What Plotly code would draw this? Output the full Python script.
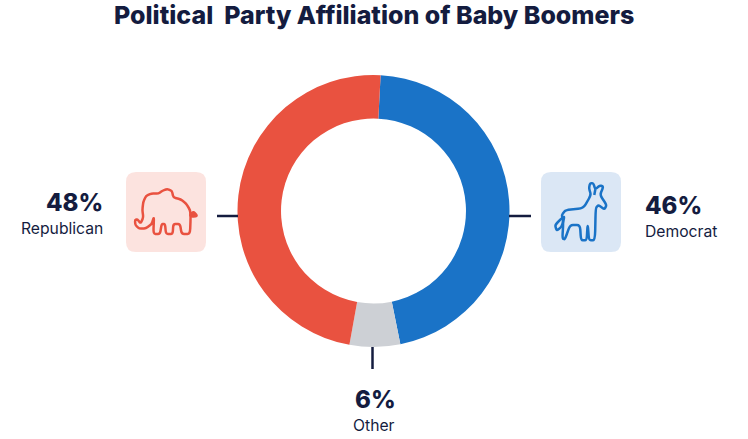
import plotly.graph_objects as go

parties = ["Democrat", "Other", "Republican"]
shares = [46, 6, 48]
colors = ["#1a73c7", "#cdd0d5", "#e95240"]
dark = "#141c3f"
font = "Inter"

# label positions in page pixels
label_x = [643, 375, 105]
name_x = [643, 374.5, 104.5]
pct_y = [205, 399, 202]
name_y = [231, 425, 228]
label_anchor = ["left", "center", "right"]

W, H = 748, 439

def px(x):
    return x / W

def py(y):
    return 1 - y / H

def rounded(x0, y0, x1, y1, r):
    steps = [("M", x0 + r, y0), ("L", x1 - r, y0), ("Q", x1, y0, x1, y0 + r), ("L", x1, y1 - r),
             ("Q", x1, y1, x1 - r, y1), ("L", x0 + r, y1), ("Q", x0, y1, x0, y1 - r), ("L", x0, y0 + r),
             ("Q", x0, y0, x0 + r, y0)]
    path = ""
    for s in steps:
        nums = s[1:]
        coords = [f"{px(nums[i]):.5f},{py(nums[i + 1]):.5f}" for i in range(0, len(nums), 2)]
        path += s[0] + " ".join(coords) + " "
    return path + "Z"

def outline(points, origin, close=True):
    pts = [(origin[0] + p[0] / 3, origin[1] + p[1] / 3) for p in points]
    if not close:
        return "M" + " L".join(f"{px(a):.5f},{py(b):.5f}" for a, b in pts)
    n = len(pts)
    path = ""
    for i in range(n):
        a, b, c = pts[i - 1], pts[i], pts[(i + 1) % n]
        s = (b[0] + (a[0] - b[0]) * 0.3, b[1] + (a[1] - b[1]) * 0.3)
        e = (b[0] + (c[0] - b[0]) * 0.3, b[1] + (c[1] - b[1]) * 0.3)
        path += ("M" if i == 0 else "L") + f"{px(s[0]):.5f},{py(s[1]):.5f} "
        path += f"Q{px(b[0]):.5f},{py(b[1]):.5f} {px(e[0]):.5f},{py(e[1]):.5f} "
    return path + "Z"

elephant = [(100,125),(97,150),(100,172),(92,190),(82,178),(75,180),(76,195),(88,206),(108,205),(125,192),
            (132,170),(130,222),(150,222),(155,192),(165,192),(168,222),(188,222),(190,192),(210,192),(215,222),
            (240,222),(242,170),(240,150),(228,130),(212,118),(190,112),(186,93),(172,87),(158,92),(145,101),
            (125,100),(108,108)]
tail = [(240,165),(250,155),(262,168),(245,170)]
donkey = [(255,70),(265,70),(271,88),(285,76),(295,80),(285,105),(305,135),(298,148),(280,135),(272,145),
          (270,241),(252,241),(248,190),(245,241),(228,241),(225,195),(195,195),(180,238),(172,236),(175,185),
          (170,165),(182,150),(235,145),(258,105),(252,85)]
donkey_tail = [(175,170),(150,195),(155,212),(170,200),(178,172)]
donkey_ear = [(271,88),(268,105)]

fig = go.Figure()
fig.add_trace(go.Pie(
    labels=parties, values=shares, sort=False, direction="clockwise", rotation=3,
    hole=0.68, textinfo="none", showlegend=False,
    marker=dict(colors=colors, line=dict(width=0)),
    domain=dict(x=[px(237.5), px(509.5)], y=[py(347), py(75)]),
))

def line(x0, y0, x1, y1):
    return dict(type="line", xref="paper", yref="paper", x0=px(x0), x1=px(x1), y0=py(y0), y1=py(y1),
                line=dict(color=dark, width=2.5))

def path_shape(path, color=None, fill=None):
    d = dict(type="path", xref="paper", yref="paper", path=path)
    if fill:
        d["fillcolor"] = fill
    d["line"] = dict(color=color, width=2.5) if color else dict(width=0)
    return d

shapes = [
    path_shape(rounded(126, 172, 206, 252, 10), fill="#fce3df"),
    path_shape(rounded(541, 172, 621, 252, 10), fill="#dbe7f5"),
    path_shape(outline(elephant, (110, 160)), color="#e95240"),
    path_shape(outline(tail, (110, 160)), color="#e95240", fill="#e95240"),
    path_shape(outline(donkey, (505, 160)), color="#1a73c7"),
    path_shape(outline(donkey_tail, (505, 160)), color="#1a73c7"),
    path_shape(outline(donkey_ear, (505, 160), close=False), color="#1a73c7"),
    line(217, 216, 238, 216),
    line(509, 216, 531, 216),
    line(372.5, 347, 372.5, 369),
]

annotations = [dict(x=px(374), y=py(15), xref="paper", yref="paper",
                    text="Political\u00a0 Party Affiliation of Baby Boomers", showarrow=False,
                    xanchor="center", yanchor="middle", font=dict(family=font, size=25, weight=800, color=dark))]
for i, party in enumerate(parties):
    annotations.append(dict(x=px(label_x[i]), y=py(pct_y[i]), xref="paper", yref="paper",
                            text=f"{shares[i]}%", showarrow=False,
                            xanchor=label_anchor[i], yanchor="middle",
                            font=dict(family=font, size=24, weight=800, color=dark)))
    annotations.append(dict(x=px(name_x[i]), y=py(name_y[i]), xref="paper", yref="paper",
                            text=party, showarrow=False,
                            xanchor=label_anchor[i], yanchor="middle", font=dict(family=font, size=15.7, color=dark)))

fig.update_layout(
    width=W, height=H, margin=dict(l=0, r=0, t=0, b=0),
    paper_bgcolor="white", plot_bgcolor="white",
    shapes=shapes, annotations=annotations,
)
# browser's default body margin would push the title out of the svg
fig.write_html("out.html", config={"displayModeBar": False},
               post_script="document.body.style.margin='0';")
